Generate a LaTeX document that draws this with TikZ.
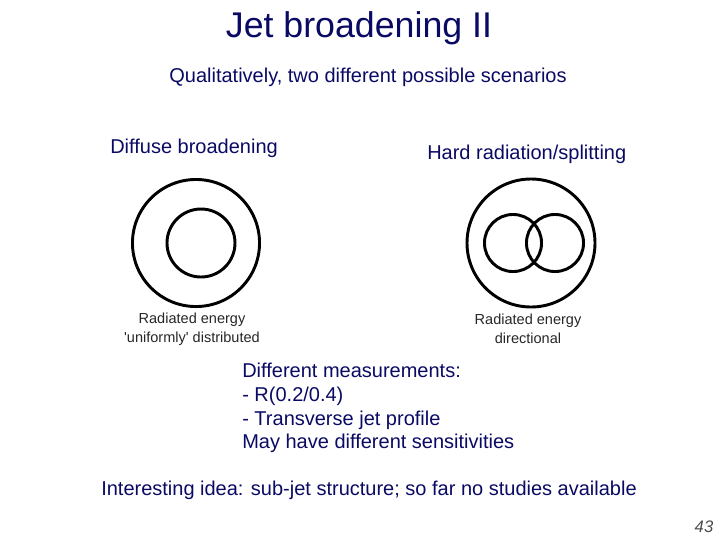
\documentclass[tikz,border=0pt]{standalone}
\usepackage{fontspec}
\setmainfont{Liberation Sans}
\usepackage{xcolor}
\definecolor{navy}{RGB}{10,10,100}

\begin{document}
\begin{tikzpicture}[
    x=0.75pt, y=-0.75pt,
    title/.style={
        text=navy,
        font=\fontsize{26.8}{30}\selectfont
    },
    heading/.style={
        text=navy,
        inner sep=0pt,
        font=\fontsize{15}{18}\selectfont
    },
    caption/.style={
        text=black!85,
        inner sep=0pt,
        align=center,
        font=\fontsize{10.9}{14.2}\selectfont
    },
    ring/.style={
        circle,
        draw=black,
        line width=2.2pt,
        inner sep=0pt
    }
]

\useasboundingbox (0,0) rectangle (720,540);

\node[title] (title) at (359,28) {Jet broadening II};
\node[heading] (sub) at (368,77) {Qualitatively, two different possible scenarios};

% left scenario
\node[heading, anchor=west] (diffuse) at (110,148) {Diffuse broadening};
\node[ring, minimum size=95.3pt] (outerL) at (196,243) {};
\node[ring, minimum size=51pt] (innerL) at (201,243) {};
\node[caption] (capL) at (192,329) {Radiated energy\\\textquotesingle uniformly\textquotesingle{} distributed};

% right scenario
\node[heading, anchor=west] (hard) at (427,154) {Hard radiation/splitting};
\node[ring, minimum size=96pt] (outerR) at (531,243) {};
\node[ring, minimum size=42.8pt] (subA) at (513,243) {};
\node[ring, minimum size=42.8pt] (subB) at (555,243) {};
\node[caption] (capR) at (528,329) {Radiated energy\\directional};

% measurements
\node[heading, anchor=north west, align=left, font=\fontsize{15}{17.8}\selectfont] (meas) at (242,363)
    {Different measurements:\\- R(0.2/0.4)\\- Transverse jet profile\\May have different sensitivities};

\node[heading] (idea) at (369,490) {Interesting idea: sub-jet structure; so far no studies available};

\node[text=black!70, font=\fontsize{12.5}{14}\itshape] (page) at (704,527) {43};

\end{tikzpicture}
\end{document}
